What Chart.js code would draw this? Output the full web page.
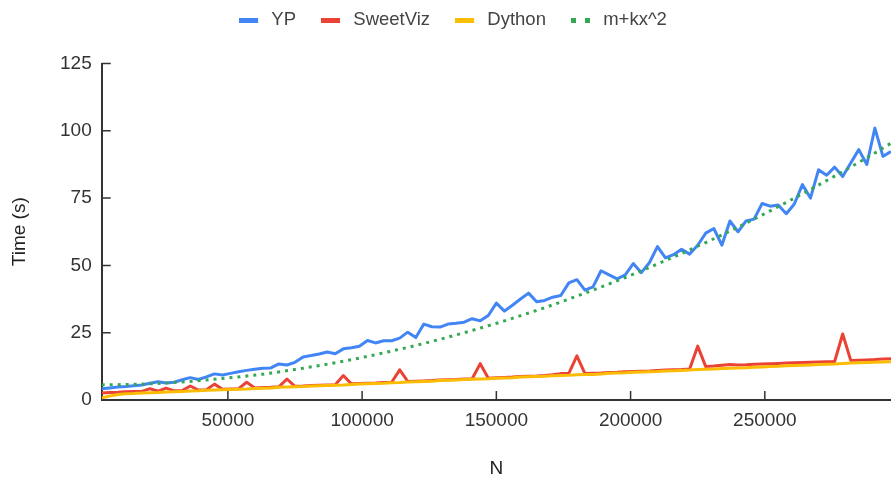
<!DOCTYPE html>
<html><head><meta charset="utf-8">
<script src="https://cdn.jsdelivr.net/npm/chart.js@4/dist/chart.umd.min.js"></script>
<style>html,body{margin:0;padding:0;background:#fff}#wrap{width:891px;height:478px}</style>
</head><body><div id="wrap"><canvas id="c" width="891" height="478"></canvas></div>
<script>
const N = [3000,6000,9000,12000,15000,18000,21000,24000,27000,30000,
33000,36000,39000,42000,45000,48000,51000,54000,57000,60000,
63000,66000,69000,72000,75000,78000,81000,84000,87000,90000,
93000,96000,99000,102000,105000,108000,111000,114000,117000,120000,
123000,126000,129000,132000,135000,138000,141000,144000,147000,150000,
153000,156000,159000,162000,165000,168000,171000,174000,177000,180000,
183000,186000,189000,192000,195000,198000,201000,204000,207000,210000,
213000,216000,219000,222000,225000,228000,231000,234000,237000,240000,
243000,246000,249000,252000,255000,258000,261000,264000,267000,270000,
273000,276000,279000,282000,285000,288000,291000,294000,297000];

const yp = [4.2,4.5,4.8,5.0,5.3,5.6,6.2,6.8,6.3,6.6,
7.5,8.3,7.6,8.6,9.7,9.3,9.9,10.5,11.0,11.4,
11.8,11.9,13.4,13.0,14.0,16.0,16.5,17.1,17.8,17.2,
19.0,19.4,20.0,22.1,21.2,22.0,22.0,23.0,25.2,23.2,
28.2,27.2,27.1,28.2,28.5,28.9,30.2,29.4,31.4,36.0,
33.0,35.2,37.5,39.7,36.5,37.0,38.2,38.8,43.5,44.7,
40.8,42.0,48.0,46.5,45.0,46.5,50.7,47.3,51.0,57.0,
52.8,54.0,56.0,54.2,57.5,62.0,63.7,57.5,66.5,62.5,
66.5,67.2,73.0,72.0,72.4,69.2,72.8,80.0,75.0,85.5,
83.5,86.5,83.0,88.0,93.0,87.5,101.0,90.5,92.3];

const sweetviz = [2.6,2.8,2.9,3.1,3.2,3.2,4.2,3.3,4.4,3.4,
3.5,5.2,3.7,3.8,5.9,4.0,4.1,4.2,6.6,4.5,
4.6,4.7,4.9,7.8,5.1,5.2,5.4,5.5,5.6,5.7,
9.1,6.0,6.1,6.2,6.3,6.5,6.6,11.2,6.9,7.0,
7.1,7.2,7.4,7.5,7.6,7.8,7.9,13.5,8.1,8.3,
8.4,8.5,8.7,8.8,8.9,9.1,9.4,9.8,9.9,16.4,
9.8,9.9,10.0,10.2,10.3,10.5,10.6,10.7,10.8,11.0,
11.1,11.2,11.3,11.5,20.0,12.4,12.6,12.9,13.2,13.0,
13.1,13.3,13.4,13.5,13.6,13.7,13.8,13.9,14.0,14.1,
14.2,14.3,24.5,14.7,14.8,14.9,15.0,15.2,15.3];

const dython = [0.8,1.5,2.0,2.3,2.4,2.6,2.7,2.8,3.0,3.1,
3.2,3.3,3.4,3.6,3.7,3.8,3.9,4.0,4.1,4.3,
4.4,4.5,4.7,4.8,4.9,5.0,5.2,5.3,5.4,5.5,
5.6,5.8,5.9,6.0,6.1,6.2,6.4,6.5,6.7,6.8,
6.9,7.0,7.2,7.3,7.4,7.6,7.7,7.8,7.9,8.1,
8.2,8.3,8.5,8.6,8.7,8.8,9.0,9.1,9.2,9.4,
9.5,9.5,9.7,9.9,10.0,10.1,10.3,10.4,10.5,10.6,
10.8,10.9,11.0,11.1,11.3,11.4,11.5,11.7,11.8,11.9,
12.0,12.2,12.3,12.4,12.5,12.7,12.8,12.9,13.0,13.2,
13.3,13.4,13.6,13.7,13.8,13.9,14.0,14.1,14.2];

const fitN = [3000,18000,33000,48000,63000,78000,93000,108000,123000,138000,153000,
168000,183000,198000,213000,228000,243000,258000,273000,288000,297000];
const fitY = [5.6,5.9,6.7,8.0,9.6,11.8,14.4,17.5,21.0,25.0,29.4,
34.3,39.7,45.5,51.8,58.5,65.7,73.4,81.5,90.0,95.4];

const xTicks = [50000,100000,150000,200000,250000];
const yTicks = [0,25,50,75,100,125];
const seriesNames = ['YP','SweetViz','Dython','m+kx^2'];
const seriesColors = ['#4285F4','#EA4335','#FBBC04','#34A853'];
const xTitle = 'N';
const yTitle = 'Time (s)';

const FONT = "'Liberation Sans', Arial, sans-serif";

function swatch(color, dotted) {
  const c = document.createElement('canvas');
  c.width = 23; c.height = 5;
  const g = c.getContext('2d');
  g.fillStyle = color;
  if (dotted) { g.fillRect(0,0,5,5); g.fillRect(14,0,5,5); }
  else g.fillRect(0,0,19,5);
  return c;
}
const swatches = seriesColors.map((c,i) => swatch(c, i === 3));

const pts = arr => N.map((n,i) => ({x:n, y:arr[i]}));

const innerTicks = {
  id: 'innerTicks',
  beforeDatasetsDraw(chart) {
    const {ctx, chartArea:a, scales:{x, y}} = chart;
    ctx.save();
    ctx.strokeStyle = '#333';
    ctx.lineWidth = 1.5;
    ctx.beginPath();
    xTicks.forEach(v => { const px = x.getPixelForValue(v); ctx.moveTo(px, a.bottom); ctx.lineTo(px, a.bottom - 9); });
    yTicks.forEach(v => { const py = y.getPixelForValue(v); ctx.moveTo(a.left, py); ctx.lineTo(a.left + 9, py); });
    ctx.stroke();
    ctx.restore();
  }
};
const legendShift = {
  id: 'legendShift',
  afterLayout(chart) {
    if (chart.legend) { chart.legend.top -= 24.25; chart.legend.left += 15; }
  }
};

new Chart(document.getElementById('c'), {
  type: 'line',
  data: {
    datasets: [
      {label: seriesNames[0], data: pts(yp), borderColor: seriesColors[0], backgroundColor: seriesColors[0], borderWidth: 3, pointRadius: 0, order: 4},
      {label: seriesNames[1], data: pts(sweetviz), borderColor: seriesColors[1], backgroundColor: seriesColors[1], borderWidth: 3, pointRadius: 0, order: 3},
      {label: seriesNames[2], data: pts(dython), borderColor: seriesColors[2], backgroundColor: seriesColors[2], borderWidth: 3, pointRadius: 0, order: 2},
      {label: seriesNames[3], data: fitN.map((n,i) => ({x:n, y:fitY[i]})), borderColor: seriesColors[3], backgroundColor: seriesColors[3], borderWidth: 3, borderDash: [3,5], borderCapStyle: 'butt', pointRadius: 0, cubicInterpolationMode: 'monotone', order: 1}
    ]
  },
  options: {
    responsive: false,
    animation: false,
    devicePixelRatio: 1,
    layout: {padding: {top: 10, left: 0, right: 0, bottom: 0}},
    elements: {line: {borderJoinStyle: 'round', tension: 0}},
    plugins: {
      tooltip: {enabled: false},
      legend: {
        position: 'top',
        labels: {
          usePointStyle: true,
          pointStyleWidth: 23,
          boxHeight: 5,
          padding: 25,
          color: '#444',
          font: {family: FONT, size: 18.5},
          generateLabels(chart) {
            const items = Chart.defaults.plugins.legend.labels.generateLabels(chart);
            items.sort((a,b) => a.datasetIndex - b.datasetIndex);
            items.forEach(it => { it.pointStyle = swatches[it.datasetIndex]; });
            return items;
          }
        }
      }
    },
    scales: {
      x: {
        type: 'linear',
        min: 3000, max: 297000,
        afterBuildTicks(s) { s.ticks = xTicks.map(v => ({value: v})); },
        afterFit(s) { s.height = 78; },
        grid: {display: false, drawTicks: false},
        border: {display: true, color: '#333', width: 2},
        ticks: {padding: 9, color: '#333', font: {family: FONT, size: 19}, maxRotation: 0, autoSkip: false, callback: v => String(v)},
        title: {display: true, text: xTitle, color: '#222', font: {family: FONT, size: 19, lineHeight: 1}, padding: {top: 0, bottom: 0}}
      },
      y: {
        type: 'linear',
        min: 0, max: 125,
        afterBuildTicks(s) { s.ticks = yTicks.map(v => ({value: v})); },
        afterFit(s) { s.width = 101.7; },
        grid: {display: false, drawTicks: false},
        border: {display: true, color: '#333', width: 2},
        ticks: {padding: 10, color: '#333', font: {family: FONT, size: 19}, callback: v => String(v)},
        title: {display: true, text: yTitle, color: '#222', font: {family: FONT, size: 19, lineHeight: 1}, padding: {top: 10.5, bottom: 0}}
      }
    }
  },
  plugins: [innerTicks, legendShift]
});
</script>
</body></html>
